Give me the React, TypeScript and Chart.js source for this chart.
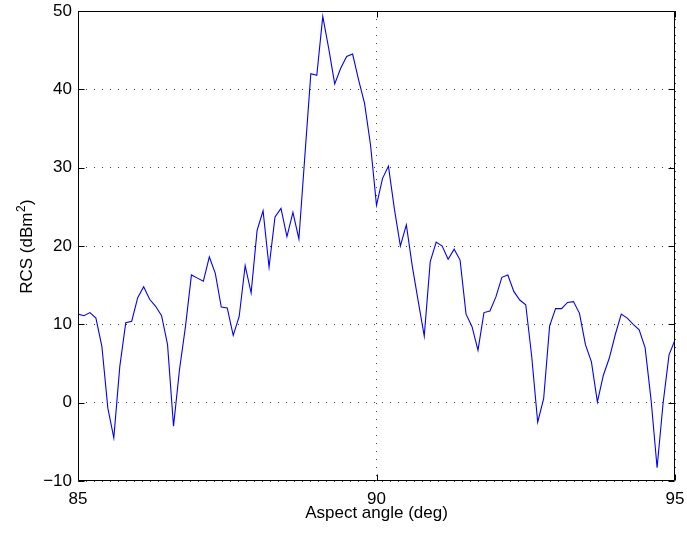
import React, { useEffect, useRef } from "react";
import { Chart, registerables } from "chart.js";

Chart.register(...registerables);

// Aspect angle samples (deg): 85.0 .. 95.0 every 0.1 deg
const angleStart = 85;
const angleStep = 0.1;

// RCS values (dBm^2), one per 0.1 deg
const rcsDb = [
  11.3, 11.1, 11.5, 10.8, 7.2, -0.7, -4.5, 4.6, 10.2, 10.4,
  13.4, 14.8, 13.2, 12.3, 11.1, 7.4, -3.0, 4.2, 9.7, 16.3,
  15.9, 15.5, 18.6, 16.5, 12.2, 12.1, 8.6, 11.0, 17.5, 14.0,
  22.0, 24.5, 17.3, 23.7, 24.8, 21.2, 24.3, 20.9, 31.5, 42.0,
  41.8, 49.3, 45.2, 40.7, 42.7, 44.2, 44.5, 41.2, 38.2, 32.9,
  25.2, 28.6, 30.2, 24.7, 20.0, 22.7, 17.4, 12.9, 8.5, 18.0,
  20.5, 20.0, 18.3, 19.6, 18.2, 11.3, 9.7, 6.7, 11.5, 11.7,
  13.5, 16.0, 16.3, 14.2, 13.1, 12.5, 5.9, -2.5, 0.5, 9.8,
  12.0, 12.0, 12.8, 12.9, 11.4, 7.4, 5.2, 0.1, 3.5, 5.7,
  8.7, 11.3, 10.8, 10.0, 9.3, 7.0, 0.3, -8.3, -0.1, 6.1,
  8.0,
];

const xTicks = [85, 90, 95];
const yTicks = [-10, 0, 10, 20, 30, 40, 50];

const xTitle = "Aspect angle (deg)";
const yTitleMain = "RCS (dBm";
const yTitleSup = "2";
const yTitleEnd = ")";

const FONT = "'Liberation Sans', Arial, Helvetica, sans-serif";

const framePlugin = {
  id: "matlabFrame",
  afterDraw(chart: any) {
    const { ctx, chartArea: a, scales } = chart;
    ctx.save();
    ctx.strokeStyle = "#000";
    ctx.lineWidth = 1;
    const L = Math.round(a.left) + 0.5;
    const R = Math.round(a.right) - 0.5;
    const T = Math.round(a.top) + 0.5;
    const B = Math.round(a.bottom) - 0.5;
    ctx.beginPath();
    ctx.rect(L, T, R - L, B - T);
    ctx.stroke();
    const tl = 6;
    ctx.beginPath();
    for (const v of xTicks) {
      const px = Math.round(scales.x.getPixelForValue(v)) + 0.5;
      ctx.moveTo(px, B);
      ctx.lineTo(px, B - tl);
      ctx.moveTo(px, T);
      ctx.lineTo(px, T + tl);
    }
    for (const v of yTicks) {
      const py = Math.round(scales.y.getPixelForValue(v)) + 0.5;
      ctx.moveTo(L, py);
      ctx.lineTo(L + tl, py);
      ctx.moveTo(R, py);
      ctx.lineTo(R - tl, py);
    }
    ctx.stroke();

    // x title
    ctx.fillStyle = "#000";
    ctx.font = `17px ${FONT}`;
    ctx.textAlign = "center";
    ctx.textBaseline = "alphabetic";
    ctx.fillText(xTitle, (a.left + a.right) / 2, 518);

    // y title with superscript
    ctx.textAlign = "left";
    ctx.font = `17px ${FONT}`;
    const w1 = ctx.measureText(yTitleMain).width;
    const w3 = ctx.measureText(yTitleEnd).width;
    ctx.font = `12px ${FONT}`;
    const w2 = ctx.measureText(yTitleSup).width;
    const total = w1 + w2 + w3;
    ctx.translate(32, (a.top + a.bottom) / 2 + 1);
    ctx.rotate(-Math.PI / 2);
    const x0 = -total / 2;
    ctx.font = `17px ${FONT}`;
    ctx.fillText(yTitleMain, x0, 0);
    ctx.font = `12px ${FONT}`;
    ctx.fillText(yTitleSup, x0 + w1 + 0.5, -7);
    ctx.font = `17px ${FONT}`;
    ctx.fillText(yTitleEnd, x0 + w1 + w2 + 1, 0);
    ctx.restore();
  },
};

export default function App() {
  const canvasRef = useRef<HTMLCanvasElement | null>(null);

  useEffect(() => {
    const canvas = canvasRef.current;
    if (!canvas) return;
    const points = rcsDb.map((v, i) => ({ x: angleStart + i * angleStep, y: v }));
    const chart = new Chart(canvas, {
      type: "line",
      data: {
        datasets: [
          {
            data: points,
            borderColor: "#0000ff",
            borderWidth: 1.1,
            pointRadius: 0,
            tension: 0,
            fill: false,
          },
        ],
      },
      options: {
        animation: false,
        responsive: false,
        devicePixelRatio: 1,
        layout: { padding: { top: 11, right: 12, left: 0, bottom: 0 } },
        plugins: {
          legend: { display: false },
          tooltip: { enabled: false },
        },
        scales: {
          x: {
            type: "linear",
            min: 85,
            max: 95,
            afterBuildTicks: (s: any) => {
              s.ticks = xTicks.map((v) => ({ value: v }));
            },
            afterFit: (s: any) => {
              s.height = 54;
              s.paddingLeft = 0;
              s.paddingRight = 0;
            },
            grid: {
              color: "rgba(0,0,0,0.75)",
              lineWidth: 1,
              drawTicks: false,
            },
            border: { display: false, dash: [1, 7] },
            ticks: {
              color: "#000",
              font: { family: FONT, size: 17 },
              padding: 8,
              maxRotation: 0,
              autoSkip: false,
            },
          },
          y: {
            type: "linear",
            min: -10,
            max: 50,
            afterBuildTicks: (s: any) => {
              s.ticks = yTicks.map((v) => ({ value: v }));
            },
            afterFit: (s: any) => {
              s.width = 78;
              s.paddingTop = 0;
              s.paddingBottom = 0;
            },
            grid: {
              color: "rgba(0,0,0,0.75)",
              lineWidth: 1,
              drawTicks: false,
            },
            border: { display: false, dash: [1, 7] },
            ticks: {
              color: "#000",
              font: { family: FONT, size: 17 },
              padding: 6,
              autoSkip: false,
              callback: (v: any) => (Number(v) < 0 ? "\u2212" + Math.abs(Number(v)) : String(v)),
            },
          },
        },
      },
      plugins: [framePlugin],
    });
    return () => chart.destroy();
  }, []);

  return (
    <div style={{ position: "absolute", left: 0, top: 0, width: 687, height: 535, background: "#fff" }}>
      <canvas ref={canvasRef} width={687} height={535} style={{ display: "block", width: 687, height: 535 }} />
    </div>
  );
}
